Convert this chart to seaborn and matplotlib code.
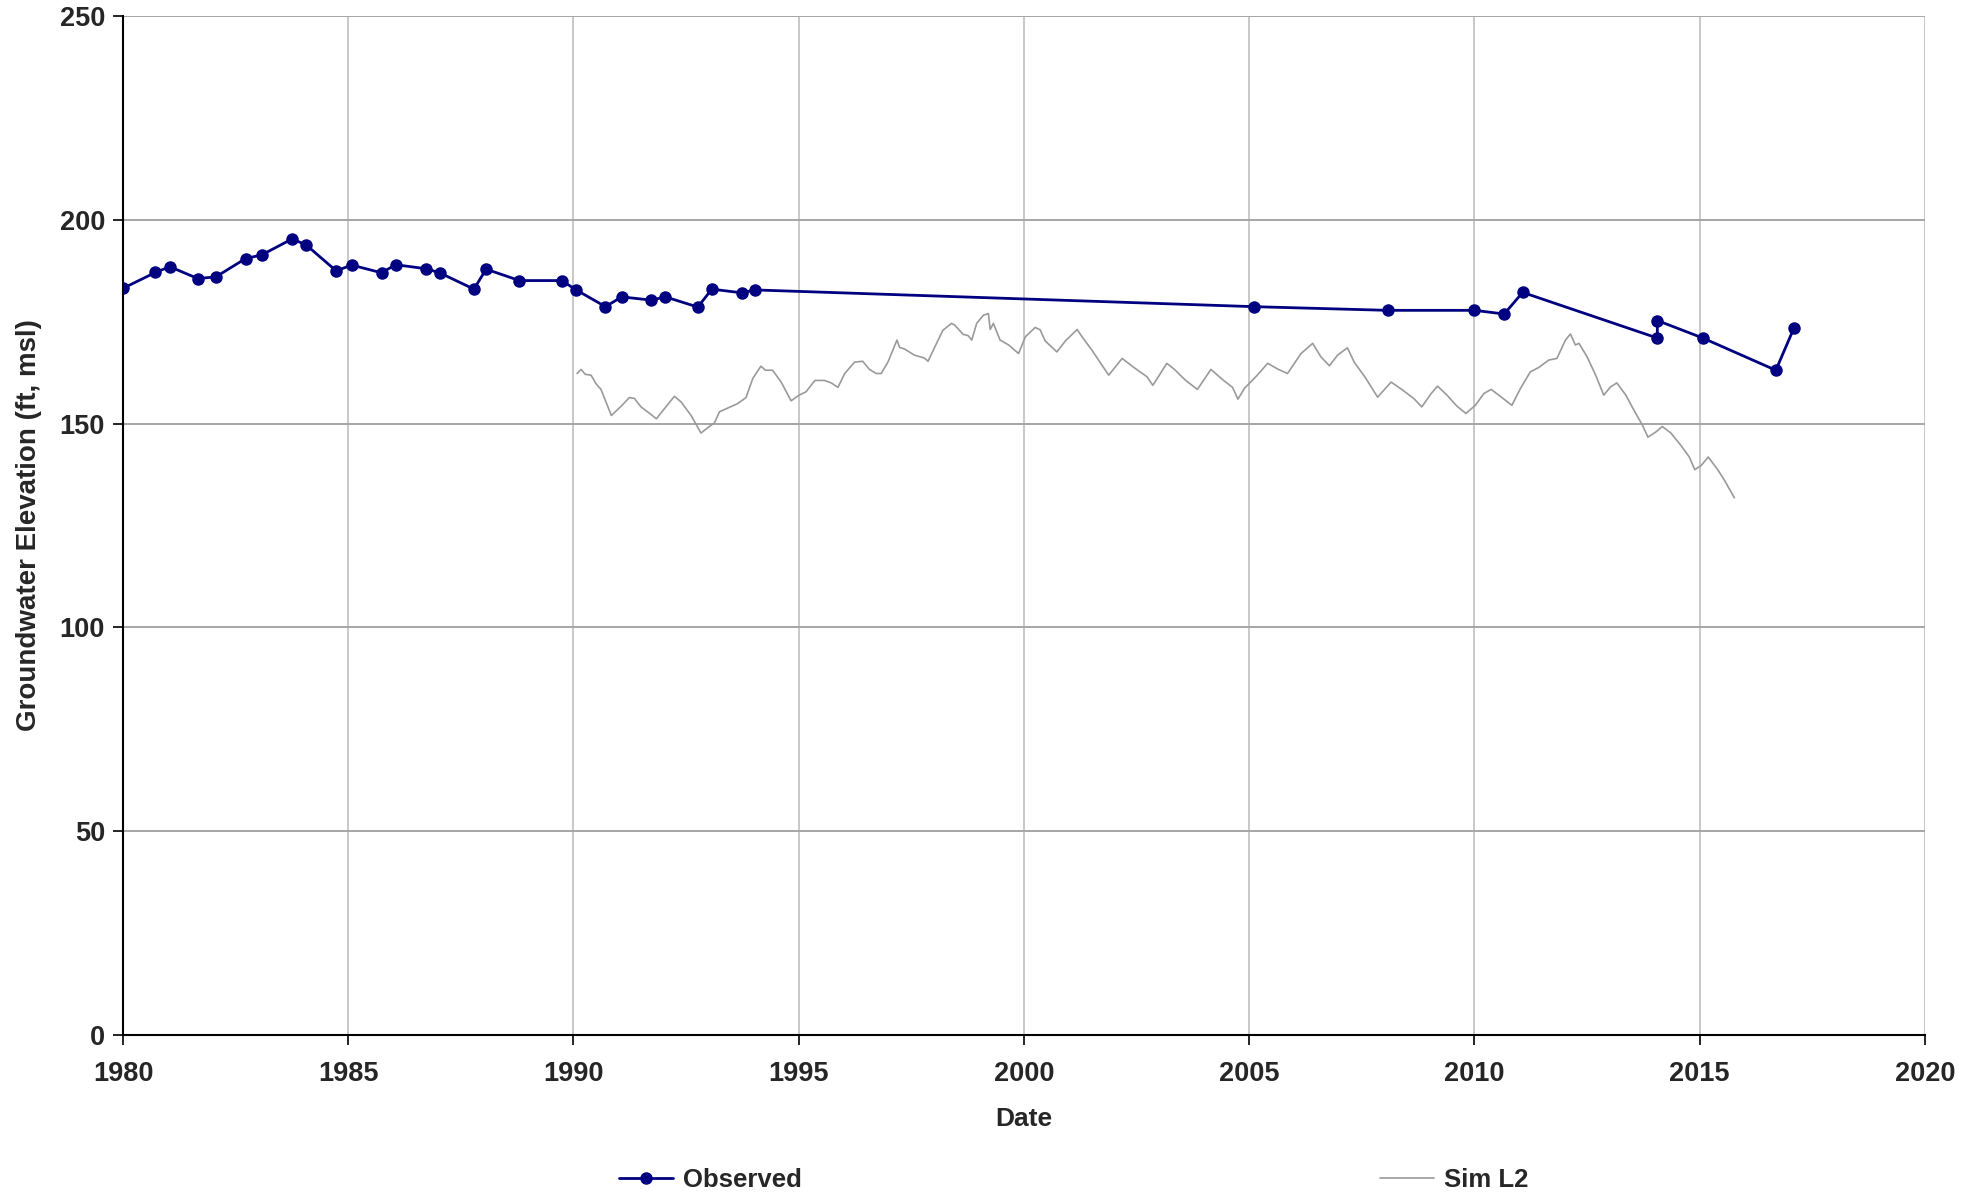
import numpy as np
import pandas as pd
import matplotlib.pyplot as plt
import seaborn as sns

# Observed water levels (decimal year, ft msl)
obs_year = [1980.00, 1980.72, 1981.04, 1981.66, 1982.06, 1982.72, 1983.08, 1983.75,
            1984.06, 1984.73, 1985.08, 1985.74, 1986.05, 1986.73, 1987.03, 1987.79,
            1988.06, 1988.80, 1989.74, 1990.06, 1990.71, 1991.07, 1991.73, 1992.04,
            1992.76, 1993.07, 1993.73, 1994.04, 2005.10, 2008.07, 2010.00, 2010.66,
            2011.07, 2014.06, 2014.06, 2015.07, 2016.69, 2017.09]
obs_elev = [183.2, 187.1, 188.5, 185.6, 186.0, 190.5, 191.4, 195.3,
            193.9, 187.5, 188.9, 187.0, 189.0, 188.0, 187.0, 183.0,
            187.9, 185.1, 185.1, 182.8, 178.7, 181.1, 180.3, 181.1,
            178.6, 183.0, 182.1, 182.8, 178.7, 177.8, 177.8, 176.9,
            182.2, 171.0, 175.3, 171.0, 163.1, 173.4]

# Simulated layer 2 heads
sim_year = [1990.08, 1990.17, 1990.26, 1990.39, 1990.50, 1990.61, 1990.84, 1991.06,
            1991.24, 1991.35, 1991.50, 1991.69, 1991.84, 1992.02, 1992.24, 1992.39,
            1992.61, 1992.83, 1992.98, 1993.13, 1993.24, 1993.42, 1993.64, 1993.83,
            1993.98, 1994.16, 1994.26, 1994.42, 1994.61, 1994.83, 1995.01, 1995.16,
            1995.36, 1995.57, 1995.72, 1995.87, 1996.02, 1996.24, 1996.42, 1996.57,
            1996.72, 1996.83, 1996.98, 1997.18, 1997.24, 1997.35, 1997.57, 1997.79,
            1997.87, 1998.02, 1998.20, 1998.39, 1998.46, 1998.65, 1998.76, 1998.84,
            1998.95, 1999.10, 1999.21, 1999.25, 1999.32, 1999.47, 1999.66, 1999.88,
            2000.03, 2000.25, 2000.36, 2000.47, 2000.73, 2000.92, 2001.18, 2001.29,
            2001.51, 2001.88, 2002.18, 2002.40, 2002.73, 2002.86, 2002.96, 2003.17,
            2003.33, 2003.59, 2003.85, 2004.15, 2004.41, 2004.63, 2004.75, 2004.89,
            2005.18, 2005.41, 2005.63, 2005.85, 2006.15, 2006.41, 2006.59, 2006.78,
            2006.96, 2007.18, 2007.33, 2007.59, 2007.85, 2008.15, 2008.41, 2008.66,
            2008.83, 2009.04, 2009.18, 2009.39, 2009.61, 2009.81, 2010.02, 2010.21,
            2010.37, 2010.61, 2010.83, 2011.02, 2011.24, 2011.43, 2011.65, 2011.83,
            2012.02, 2012.13, 2012.24, 2012.32, 2012.50, 2012.69, 2012.87, 2013.02,
            2013.16, 2013.36, 2013.54, 2013.73, 2013.85, 2014.02, 2014.17, 2014.36,
            2014.58, 2014.77, 2014.89, 2015.03, 2015.19, 2015.40, 2015.55, 2015.77]
sim_elev = [162.3, 163.3, 162.1, 161.9, 159.8, 158.4, 152.0, 154.3,
            156.4, 156.2, 154.1, 152.5, 151.2, 153.7, 156.7, 155.3,
            152.0, 147.7, 149.0, 150.2, 152.9, 153.8, 154.9, 156.4,
            161.1, 164.1, 163.1, 163.1, 160.2, 155.6, 157.0, 157.8,
            160.6, 160.6, 160.0, 158.9, 162.3, 165.1, 165.3, 163.3,
            162.3, 162.3, 165.1, 170.5, 168.7, 168.3, 166.8, 166.1,
            165.3, 168.8, 172.9, 174.6, 174.2, 171.9, 171.6, 170.5,
            174.6, 176.6, 177.0, 173.1, 174.6, 170.5, 169.3, 167.2,
            171.3, 173.6, 173.0, 170.3, 167.6, 170.3, 173.1, 171.3,
            168.0, 161.9, 166.0, 164.1, 161.5, 159.4, 161.1, 164.8,
            163.4, 160.6, 158.4, 163.3, 160.8, 158.9, 156.0, 158.6,
            161.9, 164.8, 163.4, 162.3, 167.2, 169.7, 166.4, 164.2,
            166.8, 168.6, 165.1, 161.1, 156.5, 160.2, 158.2, 156.1,
            154.1, 157.4, 159.2, 157.0, 154.3, 152.5, 154.5, 157.4,
            158.4, 156.4, 154.5, 158.6, 162.7, 163.8, 165.6, 166.0,
            170.5, 172.0, 169.3, 169.7, 166.4, 161.9, 157.0, 159.0,
            160.0, 157.0, 153.3, 149.6, 146.7, 147.9, 149.3, 147.7,
            144.7, 141.8, 138.7, 139.7, 141.8, 138.7, 136.1, 131.8]

x_ticks = [1980, 1985, 1990, 1995, 2000, 2005, 2010, 2015, 2020]
y_ticks = [0, 50, 100, 150, 200, 250]

sns.set_theme(style="white")
plt.rcParams['font.family'] = ['Liberation Sans', 'DejaVu Sans']

obs = pd.DataFrame({'year': obs_year, 'elev': obs_elev})
sim = pd.DataFrame({'year': sim_year, 'elev': sim_elev})

fig = plt.figure(figsize=(19.81, 11.97), dpi=100)
ax = fig.add_axes([0.0621, 0.1353, 0.9096, 0.8513])

sns.lineplot(data=sim, x='year', y='elev', ax=ax, color='#9a9a9a',
             linewidth=1.2, label='Sim L2', sort=False, estimator=None)
sns.lineplot(data=obs, x='year', y='elev', ax=ax, color='#000080',
             linewidth=2.0, marker='o', markersize=9, markeredgewidth=0,
             label='Observed', sort=False, estimator=None)

ax.set_xlim(1980, 2020)
ax.set_ylim(0, 250)
ax.set_xticks(x_ticks)
ax.set_yticks(y_ticks)
ax.yaxis.grid(True, color='#a6a6a6', linewidth=1.4)
ax.xaxis.grid(True, color='#c8c8c8', linewidth=1.4)
ax.set_axisbelow(True)

for side in ['top', 'right']:
    ax.spines[side].set_visible(False)
for side in ['left', 'bottom']:
    ax.spines[side].set_color('black')
    ax.spines[side].set_linewidth(1.5)

ax.tick_params(axis='both', direction='out', length=7, width=1.2,
               color='black', labelsize=19.5, pad=6)
ax.tick_params(axis='y', left=True)
ax.tick_params(axis='x', bottom=True, pad=12)
for lbl in ax.get_xticklabels() + ax.get_yticklabels():
    lbl.set_fontweight('bold')

ax.set_xlabel('Date', fontsize=19, fontweight='bold', labelpad=14)
ax.set_ylabel('Groundwater Elevation (ft, msl)', fontsize=20, fontweight='bold',
              labelpad=13)

# legend below the plot, entries far apart
ax.get_legend().remove()
handles, labels = ax.get_legend_handles_labels()
fig.legend([handles[1], handles[0]], [labels[1], labels[0]],
           loc='center', bbox_to_anchor=(0.542, 0.0142), ncol=2, frameon=False,
           prop={'weight': 'bold', 'size': 18.5}, columnspacing=22.5,
           handlelength=2.1, handletextpad=0.4)

fig.savefig('out.png', dpi=100)
